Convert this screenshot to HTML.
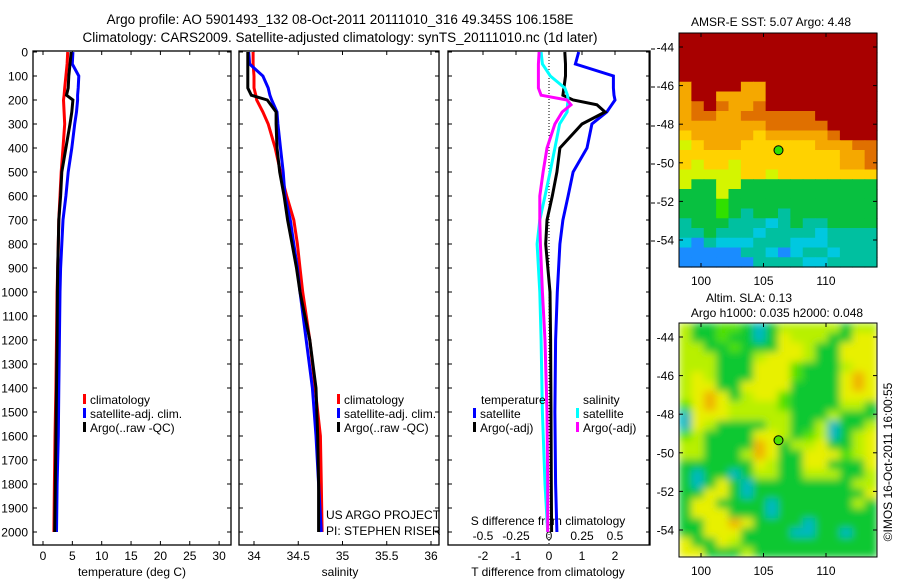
<!DOCTYPE html>
<html><head><meta charset="utf-8">
<style>
html,body{margin:0;padding:0;background:#fff;}
svg{display:block;font-family:"Liberation Sans",sans-serif;}
text{fill:#000;}
</style></head>
<body>
<svg id="fig" width="900" height="580" viewBox="0 0 900 580" xmlns="http://www.w3.org/2000/svg">
<defs>
<filter id="blur" x="0" y="0" width="1" height="1"><feGaussianBlur stdDeviation="4" edgeMode="duplicate"/></filter>
<clipPath id="clipSla"><rect x="679" y="323" width="198" height="234"/></clipPath>
</defs>
<rect width="900" height="580" fill="#fff"/>
<text x="340" y="24" font-size="13.5" text-anchor="middle">Argo profile: AO 5901493_132 08-Oct-2011 20111010_316 49.345S 106.158E</text>
<text x="340" y="42" font-size="13.5" text-anchor="middle">Climatology: CARS2009. Satellite-adjusted climatology: synTS_20111010.nc (1d later)</text>
<g id="g"></g>
</svg>
<script>
// ---- data ----
const depthTS = [0,50,100,150,180,200,250,300,400,500,600,700,800,900,1000,1200,1400,1600,1800,2000];
const climT = [4.2,4.1,3.9,3.7,3.6,3.5,3.6,3.7,3.4,3.1,2.9,2.7,2.6,2.5,2.4,2.3,2.2,2.05,1.95,1.85];
const satT  = [5.1,5.0,6.1,6.0,5.9,5.9,5.7,5.4,4.9,4.3,3.9,3.4,3.2,3.0,2.9,2.8,2.7,2.6,2.4,2.3];
const argoT = [4.8,4.6,4.4,4.3,4.0,5.1,4.9,4.6,3.9,3.2,3.0,2.7,2.6,2.5,2.45,2.4,2.3,2.2,2.1,2.0];
const climS = [33.99,33.99,34.0,34.0,34.02,34.03,34.1,34.16,34.24,34.3,34.37,34.45,34.49,34.52,34.55,34.63,34.69,34.75,34.76,34.77];
const satS  = [33.94,33.95,34.1,34.16,34.18,34.2,34.26,34.27,34.3,34.33,34.35,34.41,34.45,34.49,34.52,34.59,34.66,34.7,34.73,34.76];
const argoS = [33.93,33.93,33.93,33.93,33.97,34.15,34.25,34.25,34.26,34.29,34.34,34.38,34.43,34.48,34.52,34.63,34.7,34.72,34.73,34.73];
const depthD = [0,50,100,150,180,200,220,250,300,400,500,600,700,800,1000,1200,1500,1800,2000];
const satDT  = [0.9,0.8,1.95,1.95,1.97,2.0,1.9,1.75,1.3,1.15,0.73,0.58,0.42,0.33,0.25,0.2,0.18,0.2,0.24];
const argoDT = [0.48,0.5,0.5,0.45,0.42,0.73,1.45,1.7,1.0,0.33,0.24,0.1,-0.06,-0.1,0.03,0.05,0.06,0.07,0.08];
const satDS  = [-0.06,-0.05,0.01,0.12,0.14,0.145,0.14,0.137,0.08,0.045,0.008,-0.03,-0.07,-0.09,-0.07,-0.06,-0.05,-0.03,-0.01];
const argoDS = [-0.075,-0.08,-0.08,-0.08,-0.06,0.137,0.167,0.1,0.045,-0.015,-0.045,-0.07,-0.07,-0.065,-0.05,-0.03,-0.015,-0.01,-0.01];
const depthTicks = [0,100,200,300,400,500,600,700,800,900,1000,1100,1200,1300,1400,1500,1600,1700,1800,1900,2000];
const tempTicks = [0,5,10,15,20,25,30];
const salTicks = [34,34.5,35,35.5,36];
const salTickLabels = ["34","34.5","35","35.5","36"];
const dTTicks = [-2,-1,0,1,2];
const dSTicks = [-0.5,-0.25,0,0.25,0.5];
const dSTickLabels = ["-0.5","-0.25","0","0.25","0.5"];
const lonTicks = [100,105,110];
const latTicks = [-44,-46,-48,-50,-52,-54];
const sstGrid = [
"RRRRRRRRRRRRRRRR","RRRRRRRRRRRRRRRR","RRRRRRRRRRRRRRRR","RRRRRRRRRRRRRRRR","RRRRRRRRRRRRRRRR",
"ORRRROORRRRRRRRR","ORROOOORRRRRRRRR","OoRoOOoRRRRRRRRR","OooOOooooooRRRRR","OOOOOOOoooooRRRR",
"YOOOOOYOOOOOoRRR","yYOOOYYYYYYOOOoo","YYYYYYYYYYYYYOOo","YyYYyYYYYYYYYOOo","yyyyyYYyYYYYYYYY",
"yGGyyGGGGGGGGGGG","GGGyGGGGGGGGGGGG","GGGgGGGGGGGGGGGG","GGGgGTGGTGGGGGGG","TGGGTTTCTGTTGGGG",
"TTGTTTCTTTTCTTTT","CBTCCCTTTCCCTTTT","BBBBBTTCBCTTCTTT","BBBBBBTTTTCCTTTT"];
const slaGrid = [
"yGGggGCGyyyyyGyy","yGGgGGCGYyyyGGYY","yyGGgGGGYYyGGYYY","yyyGGGyYYYyGGYYY","yyyGGGYYYgGGGyYY",
"yYyGGGYYYgGGGYOY","yYYGGYYYYGGGGYOY","yYOYGyYYgGGGGYYY","gYOYyyyygGGGGyyG","CYYYyyyyyGGGyGGG",
"CYyGGGGyyGGyCGGy","gyGGGGYYyGgyCGyY","yyGGGGOYGyyYGGyY","yyGGGyOYGGYYYgyY","GGGGGGYyGGYYGGGY",
"GCGGCGyyGGyyyGGy","GCGYGCGGGGGGGGyy","GGYYGCGGGGGGGGGY","GYYGGGGCGGGGGGyG","GYYYGGGCGGGGGGGG",
"GGYYOYGGGGCGGGGG","GGYYYGGGGCCGGCGG","YGGYyGGGGGGGGGGG","YYGGGyGGGGGGGGGG"];
const sstColors = {R:"#a80000",O:"#f5a800",o:"#e07000",Y:"#ffd200",y:"#d4f500",G:"#08c040",g:"#30e000",T:"#00c0a0",C:"#00c8e0",B:"#1a8cff"};
const slaColors = {Y:"#e8f000",y:"#b8f000",O:"#f0b400",G:"#10c830",g:"#50e000",C:"#00b8c0"};
const argoPos = [106.2,-49.35];

// ---- helpers ----
const NS="http://www.w3.org/2000/svg";
const G=document.getElementById('g');
function mk(tag,attrs,parent){const e=document.createElementNS(NS,tag);for(const k in attrs)e.setAttribute(k,attrs[k]);(parent||G).appendChild(e);return e;}
function txt(x,y,s,size,anchor,parent){const t=mk('text',{x:x,y:y,'font-size':size,'text-anchor':anchor||'start'},parent);t.textContent=s;return t;}
const yD = d => 52 + d*0.24;
const TOP=51, BOT=545;
const xT = v => 43 + v*5.87;
const xS = v => 254 + (v-34)*88.5;
const xDT = v => 549 + v*33;
const xDS = v => 549 + v*132;

function panel(name,x0,x1){
  const r=mk('rect',{x:x0,y:TOP,width:x1-x0,height:BOT-TOP,fill:'none',stroke:'#000','stroke-width':1.3});
  
  
  depthTicks.forEach(d=>{mk('line',{x1:x0,x2:x0+4,y1:yD(d),y2:yD(d),stroke:'#000'});mk('line',{x1:x1,x2:x1-4,y1:yD(d),y2:yD(d),stroke:'#000'});});
}
function line(xs,ds,xf,color,name){
  const pts=xs.map((v,i)=>xf(v).toFixed(1)+','+yD(ds[i]).toFixed(1)).join(' ');
  const p=mk('polyline',{points:pts,fill:'none',stroke:color,'stroke-width':3,'stroke-linejoin':'miter'});
  
  
}
function legend(x,y,color,label,name){
  const g=mk('g',{});
  
  
  mk('rect',{x:x,y:y-10,width:3,height:10,fill:color},g);
  txt(x+7,y,label,12,'start',g);
}

// panel 1: temperature
panel('temperature-panel',33,231);
depthTicks.forEach(d=>{const t=txt(28,yD(d)+4.5,String(d),12,'end');});
tempTicks.forEach(v=>{mk('line',{x1:xT(v),x2:xT(v),y1:BOT,y2:BOT-4,stroke:'#000'});mk('line',{x1:xT(v),x2:xT(v),y1:TOP,y2:TOP+4,stroke:'#000'});txt(xT(v),560,String(v),12,'middle');});
txt(132,576,'temperature (deg C)',12,'middle');
line(climT,depthTS,xT,'#ff0000','climatology-temperature-line');
line(satT,depthTS,xT,'#0000ff','satellite-temperature-line');
line(argoT,depthTS,xT,'#000000','argo-temperature-line');
legend(83,404,'#ff0000','climatology','legend-climatology-t');
legend(83,418,'#0000ff','satellite-adj. clim.','legend-satellite-t');
legend(83,432,'#000000','Argo(..raw -QC)','legend-argo-t');

// panel 2: salinity
panel('salinity-panel',239,439);
salTicks.forEach((v,i)=>{mk('line',{x1:xS(v),x2:xS(v),y1:BOT,y2:BOT-4,stroke:'#000'});mk('line',{x1:xS(v),x2:xS(v),y1:TOP,y2:TOP+4,stroke:'#000'});txt(xS(v),560,salTickLabels[i],12,'middle');});
txt(340,576,'salinity',12,'middle');
line(climS,depthTS,xS,'#ff0000','climatology-salinity-line');
line(satS,depthTS,xS,'#0000ff','satellite-salinity-line');
line(argoS,depthTS,xS,'#000000','argo-salinity-line');
legend(337,404,'#ff0000','climatology','legend-climatology-s');
legend(337,418,'#0000ff','satellite-adj. clim.','legend-satellite-s');
legend(337,432,'#000000','Argo(..raw -QC)','legend-argo-s');
txt(326,519,'US ARGO PROJECT',12,'start');
txt(326,535,'PI: STEPHEN RISER',12,'start');

// panel 3: differences
panel('difference-panel',448,650);
mk('line',{x1:xDT(0),x2:xDT(0),y1:TOP,y2:BOT,stroke:'#000','stroke-dasharray':'1,2'});
dTTicks.forEach(v=>{mk('line',{x1:xDT(v),x2:xDT(v),y1:TOP,y2:TOP+4,stroke:'#000'});txt(xDT(v),560,String(v),12,'middle');});
dSTicks.forEach((v,i)=>{txt(xDS(v),540,dSTickLabels[i],12,'middle');});
txt(548,525,'S difference from climatology',12,'middle');
txt(548,576,'T difference from climatology',12,'middle');
[49,87,126,164,203,241].forEach(y=>mk('line',{x1:651,x2:655,y1:y,y2:y,stroke:'#000'}));
line(satDT,depthD,xDT,'#0000ff','satellite-temperature-diff-line');
line(argoDT,depthD,xDT,'#000000','argo-temperature-diff-line');
line(satDS,depthD,xDS,'#00ffff','satellite-salinity-diff-line');
line(argoDS,depthD,xDS,'#ff00ff','argo-salinity-diff-line');
txt(481,404,'temperature',12,'start');
txt(583,404,'salinity',12,'start');
legend(473,418,'#0000ff','satellite','legend-satellite-dt');
legend(473,432,'#000000','Argo(-adj)','legend-argo-dt');
legend(576,418,'#00ffff','satellite','legend-satellite-ds');
legend(576,432,'#ff00ff','Argo(-adj)','legend-argo-ds');

// maps
function map(name,grid,colors,top,yLabel,smooth){
  const x0=679,x1=877,y0=top,y1=top+234;
  const lon=v=>701+(v-100)*12.5;
  const lat=v=>(top+14)+(-44-v)*19.3;
  const rows=grid.length, cols=grid[0].length;
  const cw=(x1-x0)/cols, ch=(y1-y0)/rows;
  const outer=mk('g',{});
  
  
  let g=outer;
  if(smooth){ const c=mk('g',{'clip-path':'url(#clipSla)'},outer); g=mk('g',{filter:'url(#blur)'},c); }
  grid.forEach((row,r)=>{for(let c=0;c<cols;c++){mk('rect',{x:(x0+c*cw).toFixed(2),y:(y0+r*ch).toFixed(2),width:(cw+0.6).toFixed(2),height:(ch+0.6).toFixed(2),fill:colors[row[c]]},g);}});
  mk('rect',{x:x0,y:y0,width:x1-x0,height:y1-y0,fill:'none',stroke:'#000','stroke-width':1});
  lonTicks.forEach(v=>{mk('line',{x1:lon(v),x2:lon(v),y1:y0,y2:y0+4,stroke:'#000'});mk('line',{x1:lon(v),x2:lon(v),y1:y1,y2:y1-4,stroke:'#000'});txt(lon(v),yLabel,String(v),12,'middle');});
  latTicks.forEach(v=>{mk('line',{x1:x0,x2:x0+4,y1:lat(v),y2:lat(v),stroke:'#000'});mk('line',{x1:x1,x2:x1-4,y1:lat(v),y2:lat(v),stroke:'#000'});txt(674,lat(v)+4.5,String(v),12,'end');});
  const dot=mk('circle',{cx:lon(argoPos[0]),cy:lat(argoPos[1]),r:4.5,fill:colors.g||'#30e000',stroke:'#000','stroke-width':1});
  
  
}
map('sst-map',sstGrid,sstColors,33,285,false);
txt(771,26,'AMSR-E SST: 5.07 Argo: 4.48',12,'middle');
map('sla-map',slaGrid,slaColors,323,575,true);
txt(749,302,'Altim. SLA: 0.13',12,'middle');
txt(777,317,'Argo h1000: 0.035 h2000: 0.048',12,'middle');
const cr=txt(0,0,'©IMOS 16-Oct-2011 16:00:55',12,'middle');
cr.setAttribute('transform','translate(892,462) rotate(-90)');


mk('line',{x1:649,x2:649,y1:52,y2:545,stroke:'#000'});
</script>
</body></html>
